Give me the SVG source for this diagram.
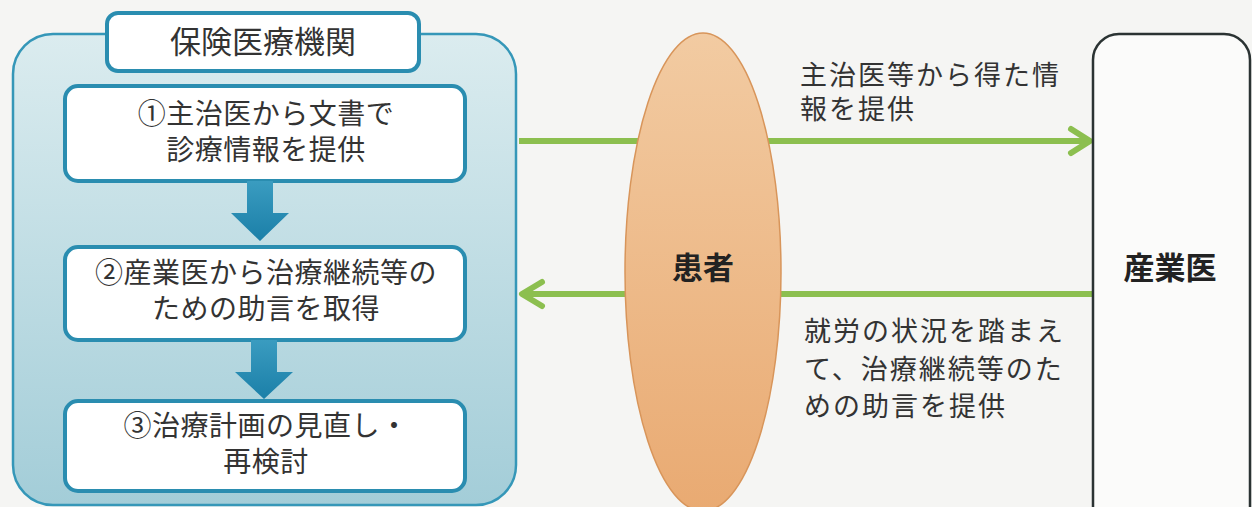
<svg xmlns="http://www.w3.org/2000/svg" width="1252" height="507" viewBox="0 0 1252 507">
<defs>
<linearGradient id="outerG" x1="0" y1="0" x2="0" y2="1">
<stop offset="0" stop-color="#dbecef"/>
<stop offset="1" stop-color="#a3cdd8"/>
</linearGradient>
<linearGradient id="ellG" x1="0" y1="0" x2="0" y2="1">
<stop offset="0" stop-color="#f2cba2"/>
<stop offset="1" stop-color="#e9aa72"/>
</linearGradient>
<linearGradient id="downG" x1="0" y1="0" x2="0" y2="1">
<stop offset="0" stop-color="#3a9cc0"/>
<stop offset="1" stop-color="#1b7fa8"/>
</linearGradient>
<style>
.txt{font-family:"Noto Sans CJK JP","Noto Sans",sans-serif;fill:#333;}
.step{fill:#fff;stroke:#2a8db0;stroke-width:4;}
.lbl{font-size:28px;text-anchor:middle;letter-spacing:0.5px;}
.note{font-size:27px;letter-spacing:2px;}
.bold{font-size:31px;font-weight:bold;text-anchor:middle;fill:#222;}
.conn{stroke:#8cbf4f;stroke-width:6;fill:none;}
.head{stroke:#8cbf4f;stroke-width:6;fill:none;stroke-linecap:round;stroke-linejoin:round;}
</style>
</defs>
<rect width="1252" height="507" fill="#f5f5f3"/>

<g id="connectors">
<line class="conn" x1="519" y1="141" x2="1089" y2="141"/>
<polyline class="head" points="1071,129 1090,141 1071,153"/>
<line class="conn" x1="1092" y1="294" x2="523" y2="294"/>
<polyline class="head" points="542,282 522,294 542,306"/>
</g>

<g id="hoken">
<rect x="13" y="34" width="503" height="471" rx="40" fill="url(#outerG)" stroke="#3597b8" stroke-width="2.5"/>
<rect x="107" y="13" width="312" height="58" rx="11" fill="#fff" stroke="#2a8db0" stroke-width="4"/>
<text class="txt" x="263" y="53" font-size="31" text-anchor="middle">保険医療機関</text>
</g>

<g id="step1">
<rect class="step" x="65" y="86" width="400" height="95" rx="13"/>
<text class="txt lbl"><tspan x="266" y="124">①主治医から文書で</tspan><tspan x="266" y="160">診療情報を提供</tspan></text>
</g>

<g id="arrow1">
<path d="M247,181 H273 V213 H289 L260,241 L231,213 H247 Z" fill="url(#downG)"/>
</g>

<g id="step2">
<rect class="step" x="65" y="247" width="400" height="93" rx="13"/>
<text class="txt lbl"><tspan x="266" y="283">②産業医から治療継続等の</tspan><tspan x="266" y="319">ための助言を取得</tspan></text>
</g>

<g id="arrow2">
<path d="M251,340 H277 V372 H293 L264,399 L235,372 H251 Z" fill="url(#downG)"/>
</g>

<g id="step3">
<rect class="step" x="65" y="401" width="400" height="90" rx="13"/>
<text class="txt lbl"><tspan x="266" y="436">③治療計画の見直し・</tspan><tspan x="266" y="472">再検討</tspan></text>
</g>

<g id="kanja">
<ellipse cx="703" cy="272" rx="78" ry="239" fill="url(#ellG)" stroke="#d8955a" stroke-width="1.5"/>
<text class="txt bold" x="703" y="279">患者</text>
</g>

<g id="sangyoi">
<rect x="1093" y="34" width="157" height="500" rx="26" fill="#fbfbfa" stroke="#2b3333" stroke-width="2.5"/>
<text class="txt bold" x="1170" y="279">産業医</text>
</g>

<g id="label-top">
<text class="txt note"><tspan x="800" y="85">主治医等から得た情</tspan><tspan x="800" y="119">報を提供</tspan></text>
</g>

<g id="label-bottom">
<text class="txt note"><tspan x="804" y="341">就労の状況を踏まえ</tspan><tspan x="804" y="379">て、治療継続等のた</tspan><tspan x="804" y="416">めの助言を提供</tspan></text>
</g>
</svg>
